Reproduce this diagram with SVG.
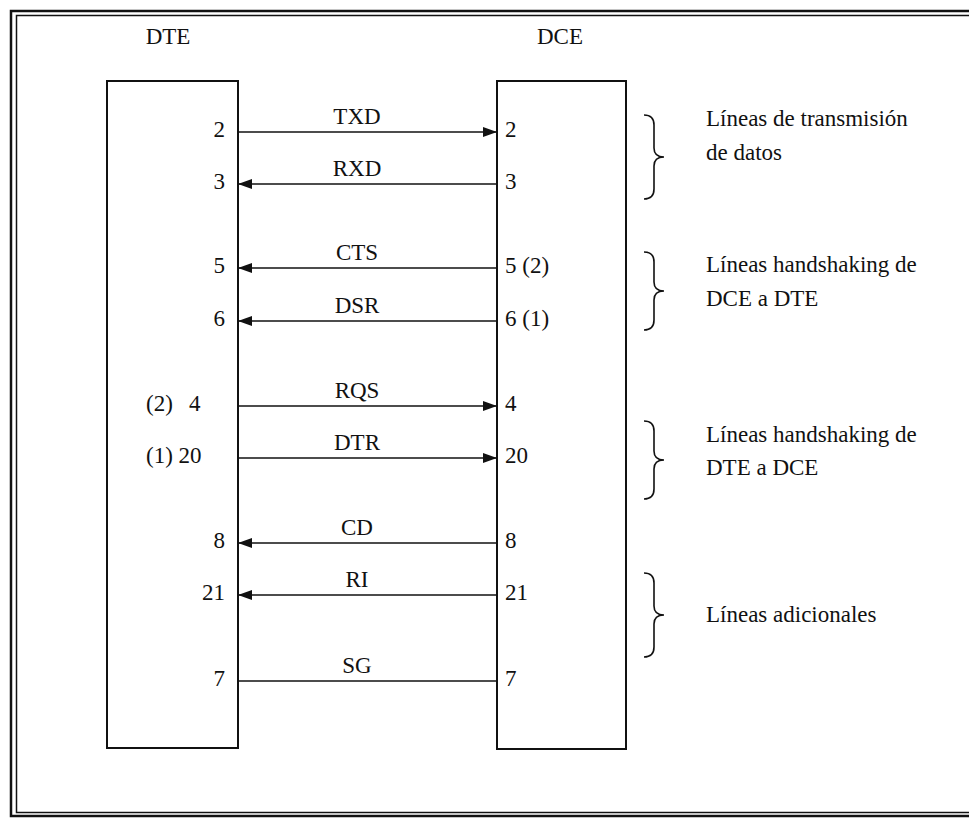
<svg xmlns="http://www.w3.org/2000/svg" width="969" height="818" viewBox="0 0 969 818">
<style>
text{font-family:'Liberation Serif','Times New Roman',serif;font-size:23px;fill:#111}
.box{fill:none;stroke:#111;stroke-width:2}
.ln{stroke:#111;stroke-width:1.6;fill:none}
.br{stroke:#111;stroke-width:1.6;fill:none}
.m{text-anchor:middle}
.e{text-anchor:end}
</style>
<defs>
<marker id="ah" viewBox="0 0 14 10" refX="14" refY="5" markerWidth="14" markerHeight="10" markerUnits="userSpaceOnUse" orient="auto">
<path d="M0,0 L14,5 L0,10 Z" fill="#111"/>
</marker>
</defs>
<rect width="969" height="818" fill="#fff"/>
<g id="frame">
<rect x="11" y="11" width="970" height="805" fill="none" stroke="#111" stroke-width="2.5"/>
<rect x="16.5" y="15.5" width="970" height="797" fill="none" stroke="#111" stroke-width="1.5"/>
</g>
<g id="dte">
<rect class="box" x="107" y="81" width="131" height="667"/>
<text class="m" x="168" y="44">DTE</text>
<text class="e" x="225" y="137">2</text>
<text class="e" x="225" y="189">3</text>
<text class="e" x="225" y="273">5</text>
<text class="e" x="225" y="326">6</text>
<text x="146" y="411">(2)</text>
<text x="189" y="411">4</text>
<text x="146" y="463">(1) 20</text>
<text class="e" x="225" y="548">8</text>
<text class="e" x="225" y="600">21</text>
<text class="e" x="225" y="686">7</text>
</g>
<g id="dce">
<rect class="box" x="497" y="81" width="129" height="668"/>
<text class="m" x="560" y="44">DCE</text>
<text x="505" y="137">2</text>
<text x="505" y="189">3</text>
<text x="505" y="273">5 (2)</text>
<text x="505" y="326">6 (1)</text>
<text x="505" y="411">4</text>
<text x="505" y="463">20</text>
<text x="505" y="548">8</text>
<text x="505" y="600">21</text>
<text x="505" y="686">7</text>
</g>
<g id="connectors">
<line class="ln" x1="238" y1="132" x2="497" y2="132" marker-end="url(#ah)"/>
<line class="ln" x1="497" y1="184" x2="238" y2="184" marker-end="url(#ah)"/>
<line class="ln" x1="497" y1="268" x2="238" y2="268" marker-end="url(#ah)"/>
<line class="ln" x1="497" y1="321" x2="238" y2="321" marker-end="url(#ah)"/>
<line class="ln" x1="238" y1="406" x2="497" y2="406" marker-end="url(#ah)"/>
<line class="ln" x1="238" y1="458" x2="497" y2="458" marker-end="url(#ah)"/>
<line class="ln" x1="497" y1="543" x2="238" y2="543" marker-end="url(#ah)"/>
<line class="ln" x1="497" y1="595" x2="238" y2="595" marker-end="url(#ah)"/>
<line class="ln" x1="238" y1="681" x2="497" y2="681"/>
<text class="m" x="357" y="124">TXD</text>
<text class="m" x="357" y="176">RXD</text>
<text class="m" x="357" y="260">CTS</text>
<text class="m" x="357" y="313">DSR</text>
<text class="m" x="357" y="398">RQS</text>
<text class="m" x="357" y="450">DTR</text>
<text class="m" x="357" y="535">CD</text>
<text class="m" x="357" y="587">RI</text>
<text class="m" x="357" y="673">SG</text>
</g>
<g id="group1">
<path class="br" d="M644,115 Q654,115 654,125 L654,148 Q654,157 664,157 Q654,157 654,166 L654,189 Q654,199 644,199"/>
<text x="706" y="126">Líneas de transmisión</text>
<text x="706" y="160">de datos</text>
</g>
<g id="group2">
<path class="br" d="M644,252 Q654,252 654,262 L654,282 Q654,291 664,291 Q654,291 654,300 L654,320 Q654,330 644,330"/>
<text x="706" y="272">Líneas handshaking de</text>
<text x="706" y="306">DCE a DTE</text>
</g>
<g id="group3">
<path class="br" d="M644,421 Q654,421 654,431 L654,451 Q654,460 664,460 Q654,460 654,469 L654,489 Q654,499 644,499"/>
<text x="706" y="442">Líneas handshaking de</text>
<text x="706" y="475">DTE a DCE</text>
</g>
<g id="group4">
<path class="br" d="M644,573 Q654,573 654,583 L654,606 Q654,615 664,615 Q654,615 654,624 L654,647 Q654,657 644,657"/>
<text x="706" y="622">Líneas adicionales</text>
</g>
</svg>
